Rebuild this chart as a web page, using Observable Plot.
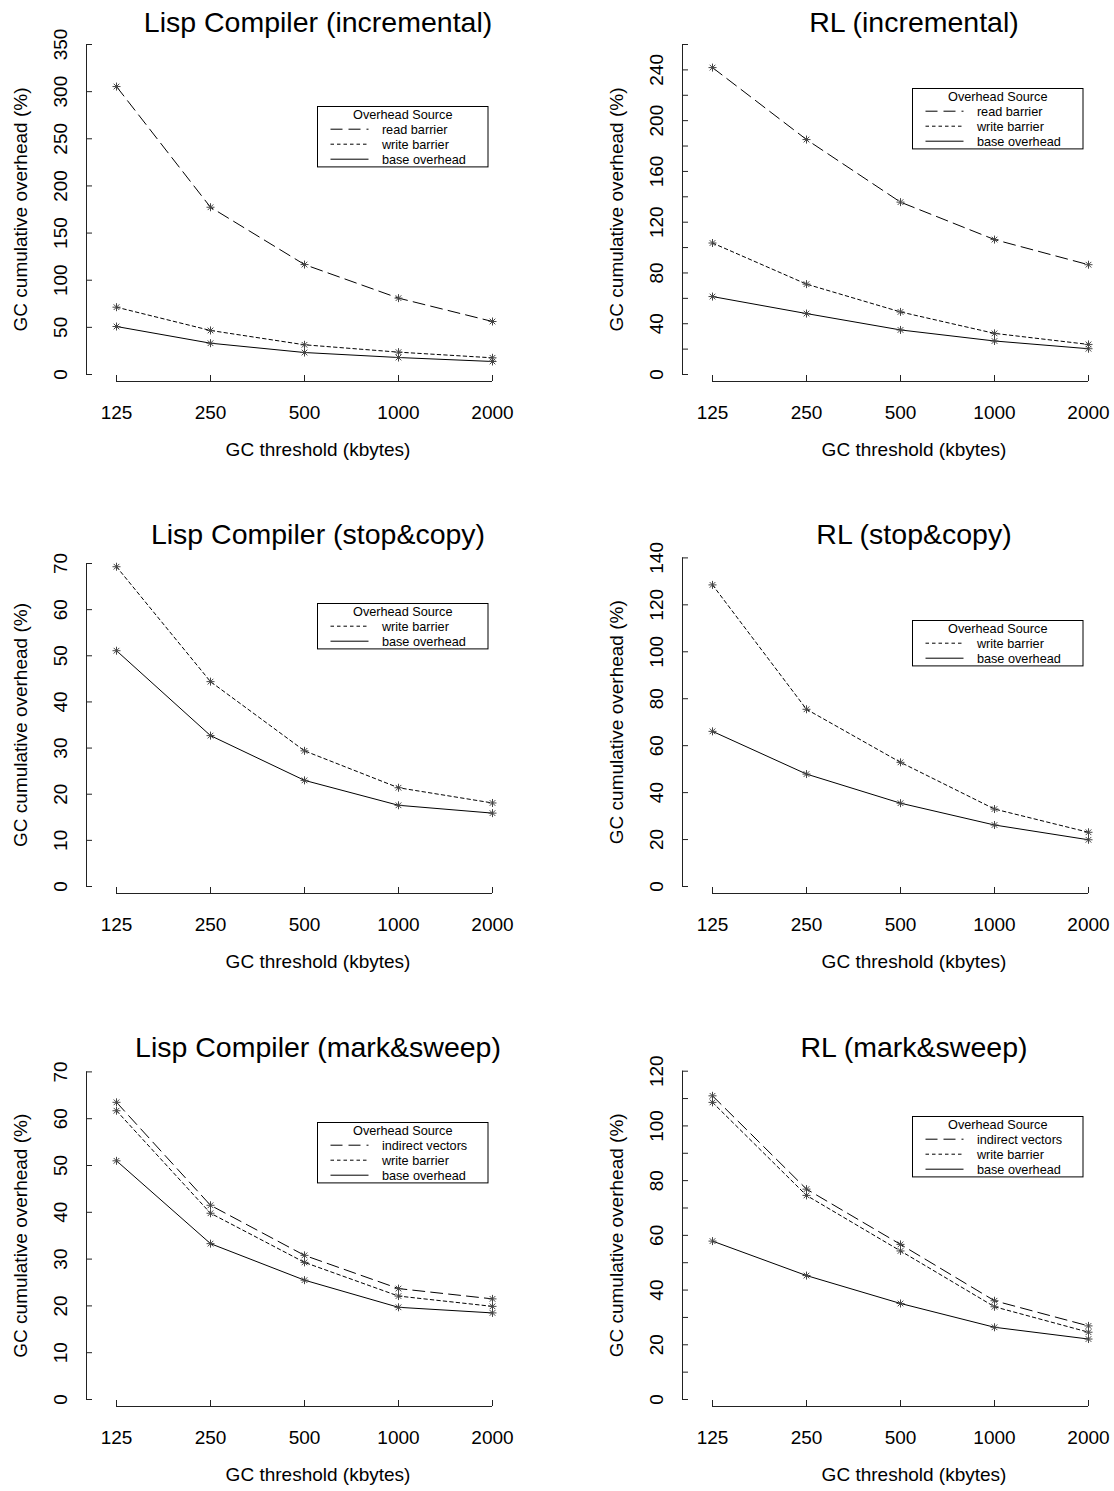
<!DOCTYPE html>
<html>
<head>
<meta charset="utf-8">
<script src="https://cdn.jsdelivr.net/npm/d3@7"></script>
<script src="https://cdn.jsdelivr.net/npm/@observablehq/plot@0.6"></script>
<style>
html, body { margin: 0; padding: 0; background: #fff; }
#page { position: relative; width: 1114px; height: 1491px; overflow: hidden;
  font-family: "Liberation Sans", Arial, Helvetica, sans-serif; }
.panel { position: absolute; width: 557px; height: 466px; }
.panel svg { overflow: visible; }
</style>
</head>
<body>
<div id="page"></div>
<script>
// ---------------- data ----------------
const thresholds = [125, 250, 500, 1000, 2000];
const xTickLabels = ["125", "250", "500", "1000", "2000"];

const lispIncRead  = [305.4, 177.4, 116.6, 81.0, 56.2];
const lispIncWrite = [71.4, 46.7, 31.5, 23.7, 17.7];
const lispIncBase  = [50.9, 33.2, 23.3, 18.0, 13.8];

const rlIncRead  = [241.8, 185.1, 135.8, 106.3, 86.5];
const rlIncWrite = [103.6, 71.2, 49.3, 32.4, 23.7];
const rlIncBase  = [61.4, 48.0, 35.1, 26.4, 20.3];

const lispScWrite = [69.3, 44.4, 29.4, 21.4, 18.1];
const lispScBase  = [51.1, 32.7, 23.0, 17.6, 15.9];

const rlScWrite = [128.5, 75.5, 52.9, 33.0, 23.1];
const rlScBase  = [66.1, 47.9, 35.5, 26.2, 19.9];

const lispMsIndirect = [63.5, 41.5, 30.8, 23.7, 21.5];
const lispMsWrite    = [61.7, 39.8, 29.3, 22.1, 19.9];
const lispMsBase     = [51.0, 33.3, 25.5, 19.7, 18.5];

const rlMsIndirect = [111.0, 76.9, 56.7, 36.1, 26.9];
const rlMsWrite    = [108.6, 74.6, 54.3, 33.9, 24.6];
const rlMsBase     = [57.9, 45.3, 35.1, 26.4, 22.1];

const panelTitles = [
  "Lisp Compiler (incremental)", "RL (incremental)",
  "Lisp Compiler (stop&copy)", "RL (stop&copy)",
  "Lisp Compiler (mark&sweep)", "RL (mark&sweep)"
];

const yTicksLispInc = [0, 50, 100, 150, 200, 250, 300, 350];
const yLabelsLispInc = [0, 50, 100, 150, 200, 250, 300, 350];
const yTicksRlInc = [0, 20, 40, 60, 80, 100, 120, 140, 160, 180, 200, 220, 240, 260];
const yLabelsRlInc = [0, 40, 80, 120, 160, 200, 240];
const yTicksLispSc = [0, 10, 20, 30, 40, 50, 60, 70];
const yLabelsLispSc = [0, 10, 20, 30, 40, 50, 60, 70];
const yTicksRlSc = [0, 20, 40, 60, 80, 100, 120, 140];
const yLabelsRlSc = [0, 20, 40, 60, 80, 100, 120, 140];
const yTicksLispMs = [0, 10, 20, 30, 40, 50, 60, 70];
const yLabelsLispMs = [0, 10, 20, 30, 40, 50, 60, 70];
const yTicksRlMs = [0, 10, 20, 30, 40, 50, 60, 70, 80, 90, 100, 110, 120];
const yLabelsRlMs = [0, 20, 40, 60, 80, 100, 120];

const legendTitle = "Overhead Source";
const xLabel = "GC threshold (kbytes)";
const yLabel = "GC cumulative overhead (%)";

const panels = [
  { title: panelTitles[0], yTicks: yTicksLispInc, yLabels: yLabelsLispInc,
    series: [["read barrier", lispIncRead], ["write barrier", lispIncWrite], ["base overhead", lispIncBase]] },
  { title: panelTitles[1], yTicks: yTicksRlInc, yLabels: yLabelsRlInc,
    series: [["read barrier", rlIncRead], ["write barrier", rlIncWrite], ["base overhead", rlIncBase]] },
  { title: panelTitles[2], yTicks: yTicksLispSc, yLabels: yLabelsLispSc,
    series: [["write barrier", lispScWrite], ["base overhead", lispScBase]] },
  { title: panelTitles[3], yTicks: yTicksRlSc, yLabels: yLabelsRlSc,
    series: [["write barrier", rlScWrite], ["base overhead", rlScBase]] },
  { title: panelTitles[4], yTicks: yTicksLispMs, yLabels: yLabelsLispMs,
    series: [["indirect vectors", lispMsIndirect], ["write barrier", lispMsWrite], ["base overhead", lispMsBase]] },
  { title: panelTitles[5], yTicks: yTicksRlMs, yLabels: yLabelsRlMs,
    series: [["indirect vectors", rlMsIndirect], ["write barrier", rlMsWrite], ["base overhead", rlMsBase]] }
];

// ---------------- layout / style ----------------
const colLeft = [0, 595.5];
const rowTop = [0, 512.3, 1025.3];
const topTickY = [44, 44, 51, 45.4, 46.4, 45.7];
const legendTopY = [106.7, 88.3, 91.7, 108.4, 97.4, 91.4];
const dashes = { "read barrier": "12,6", "indirect vectors": "12,6", "write barrier": "3.5,3", "base overhead": null };
const FONT = "'Liberation Sans', Arial, Helvetica, sans-serif";
const axisColor = "#222";

// R-style pch 8 asterisk (+ and x)
const asterisk = {
  draw(context, size) {
    const r = Math.sqrt(size / Math.PI);
    const d = r * Math.SQRT1_2;
    context.moveTo(-r, 0); context.lineTo(r, 0);
    context.moveTo(0, -r); context.lineTo(0, r);
    context.moveTo(-d, -d); context.lineTo(d, d);
    context.moveTo(-d, d); context.lineTo(d, -d);
  }
};

function xLabelFor(d) {
  let best = 0;
  thresholds.forEach((t, i) => { if (Math.abs(t - d) < Math.abs(thresholds[best] - d)) best = i; });
  return xTickLabels[best];
}

const page = document.getElementById("page");

panels.forEach((p, k) => {
  const col = k % 2, row = Math.floor(k / 2);
  const W = 557, H = 466, ML = 86, MR = 8, MB = 92, MT = topTickY[k];
  const div = document.createElement("div");
  div.className = "panel";
  div.style.left = colLeft[col] + "px";
  div.style.top = rowTop[row] + "px";
  page.appendChild(div);

  const data = p.series.flatMap(([name, values]) =>
    values.map((v, i) => ({ source: name, x: thresholds[i], y: v })));

  const marks = [
    Plot.frame({ anchor: "left", stroke: axisColor }),
    Plot.ruleY([0], { x1: thresholds[0], x2: thresholds[thresholds.length - 1], dy: 7, stroke: axisColor }),
    Plot.axisY(p.yTicks, { anchor: "left", tickSize: 6, dx: 6, fill: "none", label: null, stroke: axisColor }),
    Plot.axisY(p.yLabels, { anchor: "left", tickSize: 0, tickPadding: 20, tickRotate: -90, fontSize: 19, fill: "#000",
      label: yLabel, labelAnchor: "center", labelOffset: 73, labelArrow: "none" }),
    Plot.axisX(thresholds, { anchor: "bottom", tickSize: 6, dy: 1, fill: "none", label: null, stroke: axisColor }),
    Plot.text(thresholds, { x: d => d, text: xLabelFor, frameAnchor: "bottom", dy: 44.5, lineAnchor: "bottom",
      fontSize: 19, fill: "#000" }),
    Plot.axisX([], { anchor: "bottom", tickSize: 0, fill: "#000", fontSize: 19,
      label: xLabel, labelAnchor: "center", labelOffset: 81.5, labelArrow: "none" })
  ];
  p.series.forEach(([name]) => {
    marks.push(Plot.line(data.filter(d => d.source === name), {
      x: "x", y: "y", stroke: "#000", strokeWidth: 1, strokeDasharray: dashes[name]
    }));
  });
  marks.push(Plot.dot(data, { x: "x", y: "y", symbol: asterisk, r: 4, stroke: "#444", fill: "none", strokeWidth: 1 }));
  marks.push(Plot.text([p.title], { text: d => d, frameAnchor: "top", dy: 31 - MT, lineAnchor: "bottom",
    fontSize: 28.5, fill: "#000" }));

  const svg = Plot.plot({
    width: W, height: H,
    marginLeft: ML, marginRight: MR, marginTop: MT, marginBottom: MB,
    x: { type: "log", domain: [thresholds[0], thresholds[thresholds.length - 1]], range: [116, 492], axis: null },
    y: { type: "linear", domain: [0, p.yTicks[p.yTicks.length - 1]], axis: null },
    style: { fontFamily: FONT, fontSize: "19px", color: "#000", background: "transparent" },
    marks
  });
  div.appendChild(svg);

  // legend box
  const n = p.series.length + 1;
  const lw = 170.5, lh = 15.4 + 15 * (n - 1);
  const lg = d3.select(div).append("svg")
    .style("position", "absolute").style("left", "316.5px").style("top", (legendTopY[k] - 0.5) + "px")
    .attr("width", lw + 1).attr("height", lh + 1)
    .style("font-family", FONT).style("font-size", "12.7px");
  lg.append("rect").attr("x", 0.5).attr("y", 0.5).attr("width", lw).attr("height", lh)
    .attr("fill", "#fff").attr("stroke", "#000").attr("stroke-width", 1);
  lg.append("text").attr("x", 0.5 + lw / 2).attr("y", 0.5 + 7.7).attr("dy", "0.35em")
    .attr("text-anchor", "middle").attr("fill", "#000").text(legendTitle);
  p.series.forEach(([name], i) => {
    const y = 0.5 + 7.7 + 15 * (i + 1);
    const ln = lg.append("line").attr("x1", 13.5).attr("x2", 51.5).attr("y1", y).attr("y2", y)
      .attr("stroke", "#000").attr("stroke-width", 1);
    if (dashes[name]) ln.attr("stroke-dasharray", dashes[name]);
    lg.append("text").attr("x", 64.9).attr("y", y).attr("dy", "0.35em").attr("fill", "#000").text(name);
  });
});
</script>
</body>
</html>
